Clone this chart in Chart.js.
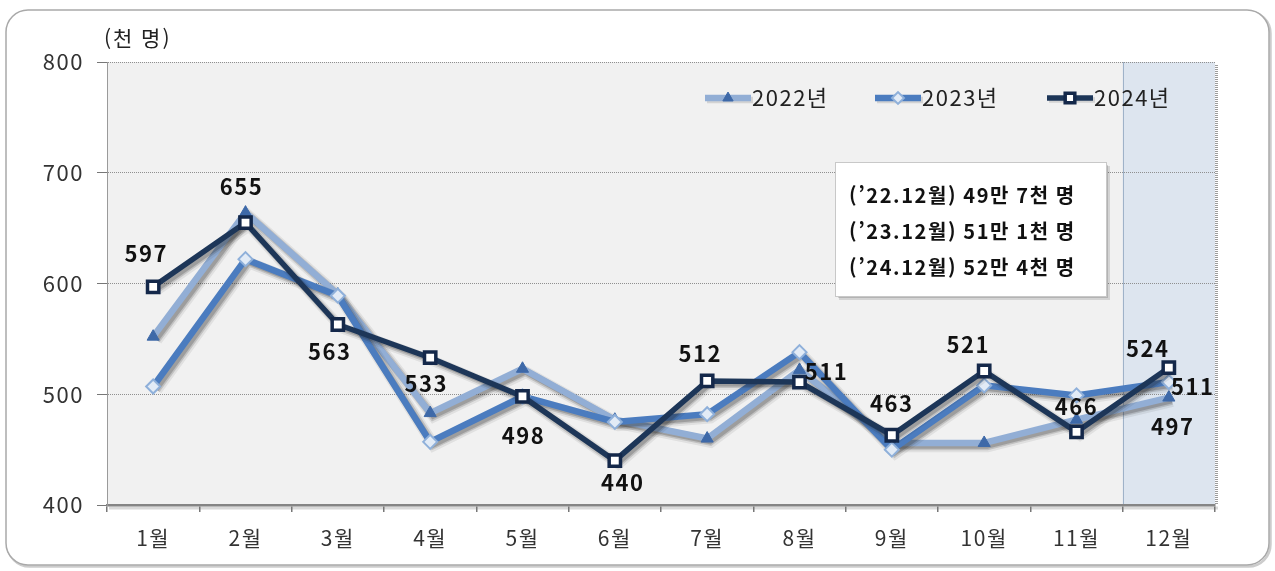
<!DOCTYPE html>
<html lang="ko">
<head>
<meta charset="utf-8">
<script src="https://cdn.jsdelivr.net/npm/chart.js@4.4.1/dist/chart.umd.min.js"></script>
<style>
  html, body { margin: 0; padding: 0; background: #ffffff; }
  #wrap { width: 1275px; height: 571px; }
  canvas { display: block; }
</style>
</head>
<body>
<div id="wrap"><canvas id="c" width="1275" height="571"></canvas></div>
<script>
// ---- data ----
const categories = ['1월','2월','3월','4월','5월','6월','7월','8월','9월','10월','11월','12월'];
const values2022 = [552, 664, 590, 483, 523, 477, 460, 522, 456, 456, 477, 497];
const values2023 = [507, 622, 589, 457, 498, 475, 482, 538, 450, 508, 499, 511];
const values2024 = [597, 655, 563, 533, 498, 440, 512, 511, 463, 521, 466, 524];
const seriesNames = ['2022년', '2023년', '2024년'];
const yTicks = [400, 500, 600, 700, 800];
const unitLabel = '(천 명)';
const noteLines = ['(’22.12월) 49만 7천 명', '(’23.12월) 51만 1천 명', '(’24.12월) 52만 4천 명'];
const highlightFrom = 11; // index of the shaded category (12월)

// label placement (offsets in px from the point), separate from data
const labelOffsets2024 = [[-7,-33],[-4,-36],[-8,27],[-4,26],[1,39],[8,22],[-7,-27],[27,-10],[0,-32],[-16,-26],[0,-25],[-21,-19]];
const extraLabels = [ // [datasetIndex, pointIndex, dx, dy]
  [1, 11, 24, 5],
  [0, 11, 4, 29]
];

const FONT = '"Noto Sans CJK KR", "Noto Sans", sans-serif';

const bgPlugin = {
  id: 'bg',
  beforeDraw(chart) {
    const ctx = chart.ctx, a = chart.chartArea;
    ctx.save();
    ctx.fillStyle = '#ffffff';
    ctx.fillRect(0, 0, chart.width, chart.height);
    // outer rounded frame with a soft shadow
    ctx.beginPath();
    ctx.roundRect(7.5, 11.5, 1263, 555, 22);
    ctx.strokeStyle = 'rgba(0,0,0,0.2)';
    ctx.lineWidth = 2.5;
    ctx.stroke();
    ctx.beginPath();
    ctx.roundRect(6, 10, 1263, 555, 22);
    ctx.fillStyle = '#ffffff';
    ctx.fill();
    ctx.strokeStyle = '#a9a9a9';
    ctx.lineWidth = 1.5;
    ctx.stroke();
    // plot area
    ctx.fillStyle = '#f1f1f1';
    ctx.fillRect(a.left, a.top, a.right - a.left, a.bottom - a.top);
    const band = (a.right - a.left) / categories.length;
    const hx = a.left + band * highlightFrom;
    ctx.fillStyle = '#dde5ef';
    ctx.fillRect(hx, a.top, a.right - hx, a.bottom - a.top);
    ctx.strokeStyle = '#9fb2c8';
    ctx.lineWidth = 1;
    ctx.beginPath(); ctx.moveTo(Math.round(hx) + 0.5, a.top); ctx.lineTo(Math.round(hx) + 0.5, a.bottom); ctx.stroke();
    // right edge shadow
    ctx.strokeStyle = '#9c9c9c';
    ctx.setLineDash([1, 1]);
    ctx.lineWidth = 3;
    ctx.beginPath(); ctx.moveTo(a.right + 1.5, a.top + 3); ctx.lineTo(a.right + 1.5, a.bottom); ctx.stroke();
    ctx.setLineDash([]);
    // x-axis soft shadow
    ctx.strokeStyle = 'rgba(0,0,0,0.15)';
    ctx.lineWidth = 3;
    ctx.beginPath(); ctx.moveTo(a.left + 2, a.bottom + 3); ctx.lineTo(a.right + 3, a.bottom + 3); ctx.stroke();
    // unit label
    ctx.fillStyle = '#222';
    ctx.font = '21px ' + FONT;
    ctx.letterSpacing = '2px';
    ctx.textAlign = 'left';
    ctx.textBaseline = 'middle';
    ctx.fillText(unitLabel, 104, 38);
    ctx.restore();
    // wider glyph spacing for the axis labels drawn by Chart.js
    ctx.letterSpacing = '1.5px';
  }
};

// soft drop shadow under each line, drawn from the library's own point positions
const shadowPlugin = {
  id: 'lineShadow',
  beforeDatasetDraw(chart, args) {
    const ctx = chart.ctx;
    const ds = chart.data.datasets[args.index];
    const pts = args.meta.data;
    const passes = [[ds.borderWidth + 5, 0.08, 3.5], [ds.borderWidth + 2, 0.16, 3], [ds.borderWidth - 1, 0.22, 3]];
    ctx.save();
    ctx.lineJoin = 'miter';
    passes.forEach(([w, al, off]) => {
      ctx.strokeStyle = 'rgba(30,30,30,' + al + ')';
      ctx.lineWidth = w;
      ctx.beginPath();
      pts.forEach((p, i) => { if (i === 0) ctx.moveTo(p.x + off, p.y + off); else ctx.lineTo(p.x + off, p.y + off); });
      ctx.stroke();
    });
    ctx.restore();
  }
};

function drawMarker(ctx, ds, x, y) {
  ctx.save();
  ctx.fillStyle = ds.pointBackgroundColor;
  ctx.strokeStyle = ds.pointBorderColor;
  ctx.lineWidth = ds.pointBorderWidth;
  Chart.helpers.drawPoint(ctx, { pointStyle: ds.pointStyle, radius: ds.pointRadius * 0.85, borderWidth: ds.pointBorderWidth, rotation: 0 }, x, y);
  ctx.restore();
}

const overlayPlugin = {
  id: 'overlay',
  afterDatasetsDraw(chart) {
    const ctx = chart.ctx;
    const dsets = chart.data.datasets;
    ctx.save();
    // legend
    const legendX = [705, 875, 1047];
    const legendY = 98;
    ctx.font = '22px ' + FONT;
    ctx.letterSpacing = '1.5px';
    ctx.textBaseline = 'middle';
    ctx.textAlign = 'left';
    dsets.forEach((ds, i) => {
      const x0 = legendX[i];
      ctx.strokeStyle = 'rgba(40,40,40,0.15)';
      ctx.lineWidth = ds.borderWidth;
      ctx.beginPath(); ctx.moveTo(x0 + 2, legendY + 2); ctx.lineTo(x0 + 48, legendY + 2); ctx.stroke();
      ctx.strokeStyle = ds.borderColor;
      ctx.beginPath(); ctx.moveTo(x0, legendY); ctx.lineTo(x0 + 46, legendY); ctx.stroke();
      drawMarker(ctx, ds, x0 + 23, legendY);
      ctx.fillStyle = '#222';
      ctx.fillText(ds.label, x0 + 47, legendY);
    });
    // note box with shadow
    ctx.fillStyle = 'rgba(0,0,0,0.12)';
    ctx.fillRect(839, 166, 271, 134);
    ctx.fillStyle = 'rgba(0,0,0,0.15)';
    ctx.fillRect(838, 165, 270, 133);
    ctx.fillStyle = '#ffffff';
    ctx.fillRect(835, 162, 271, 134);
    ctx.strokeStyle = '#c8c8c8';
    ctx.lineWidth = 1;
    ctx.strokeRect(835.5, 162.5, 271, 134);
    ctx.fillStyle = '#111';
    ctx.font = 'bold 20px ' + FONT;
    ctx.letterSpacing = '1.6px';
    noteLines.forEach((t, i) => ctx.fillText(t, 849, 195 + i * 36));
    // data labels
    ctx.font = 'bold 22px ' + FONT;
    ctx.letterSpacing = '1.5px';
    ctx.textAlign = 'center';
    ctx.fillStyle = '#111';
    const m2024 = chart.getDatasetMeta(2);
    m2024.data.forEach((pt, i) => {
      const off = labelOffsets2024[i];
      ctx.fillText(String(values2024[i]), pt.x + off[0], pt.y + off[1]);
    });
    const allVals = [values2022, values2023, values2024];
    extraLabels.forEach(([d, i, dx, dy]) => {
      const pt = chart.getDatasetMeta(d).data[i];
      ctx.fillText(String(allVals[d][i]), pt.x + dx, pt.y + dy);
    });
    ctx.restore();
  }
};

new Chart(document.getElementById('c'), {
  type: 'line',
  data: {
    labels: categories,
    datasets: [
      {
        label: seriesNames[0], data: values2022, order: 3,
        borderColor: '#92aed5', borderWidth: 6.5, tension: 0,
        pointStyle: 'triangle', pointRadius: 7, pointBackgroundColor: '#3e69a8', pointBorderColor: '#3e69a8', pointBorderWidth: 1
      },
      {
        label: seriesNames[1], data: values2023, order: 2,
        borderColor: '#4b7cbf', borderWidth: 6.5, tension: 0,
        pointStyle: 'rectRot', pointRadius: 7, pointBackgroundColor: '#e2ebf6', pointBorderColor: '#8fb0da', pointBorderWidth: 2
      },
      {
        label: seriesNames[2], data: values2024, order: 1,
        borderColor: '#1d3658', borderWidth: 5.5, tension: 0,
        pointStyle: 'rect', pointRadius: 8, pointBackgroundColor: '#ffffff', pointBorderColor: '#14284a', pointBorderWidth: 3.5
      }
    ]
  },
  options: {
    responsive: false,
    animation: false,
    devicePixelRatio: 1,
    layout: { padding: { top: 62, right: 60, left: 0, bottom: 0 } },
    plugins: { legend: { display: false }, tooltip: { enabled: false } },
    scales: {
      x: {
        type: 'category',
        offset: true,
        grid: { offset: true, drawOnChartArea: false, drawTicks: true, tickLength: 7, color: '#777', lineWidth: 1.5 },
        border: { color: '#858585', width: 2.5 },
        ticks: { color: '#333', font: { size: 21, family: FONT }, padding: 13, maxRotation: 0, autoSkip: false },
        afterFit(s) { s.height = 66; }
      },
      y: {
        min: 400, max: 800,
        afterBuildTicks(s) { s.ticks = yTicks.map(v => ({ value: v })); },
        grid: { color: '#8f8f8f', lineWidth: 1, tickLength: 10, tickColor: '#777', tickBorderDash: [] },
        border: { color: '#9a9a9a', width: 1, dash: [1, 1] },
        ticks: { color: '#333', font: { size: 22, family: FONT }, padding: 13 },
        afterFit(s) { s.width = 107; }
      }
    }
  },
  plugins: [bgPlugin, shadowPlugin, overlayPlugin]
});
</script>
</body>
</html>
